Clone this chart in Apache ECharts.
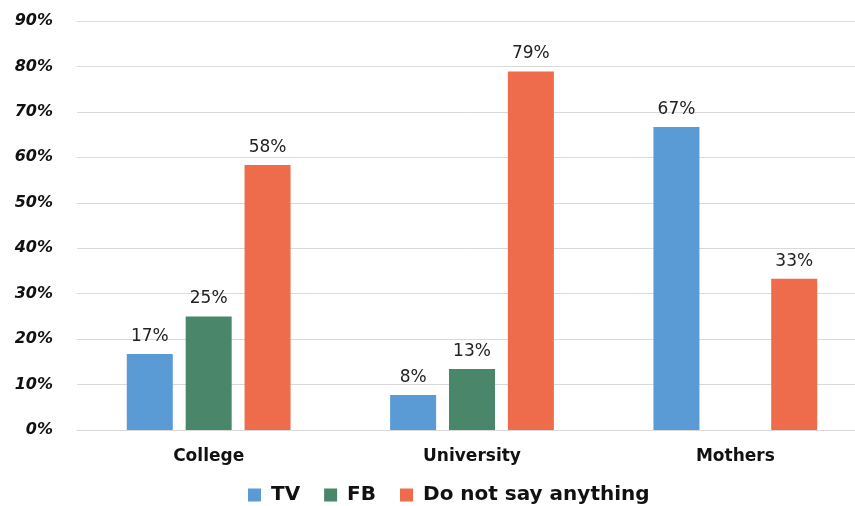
<!DOCTYPE html>
<html>
<head>
<meta charset="utf-8">
<script src="https://cdn.jsdelivr.net/npm/echarts@6/dist/echarts.min.js"></script>
<style>
html, body { margin: 0; padding: 0; background: #fff; }
#chart { width: 855px; height: 506px; }
</style>
</head>
<body>
<div id="chart"></div>
<script>
// data
var categories = ["College", "University", "Mothers"];
var tvData = [16.7, 7.7, 66.7];
var fbData = [25.0, 13.4, null];
var silentData = [58.3, 78.9, 33.3];
var seriesNames = ["TV", "FB", "Do not say anything"];
var colors = ["#5b9bd5", "#4a8669", "#ee6c4b"];

var chart = echarts.init(document.getElementById("chart"));

function barSeries(name, data, color) {
    return {
        name: name,
        type: "bar",
        data: data,
        barWidth: 46,
        barGap: "28%",
        itemStyle: { color: color },
        label: {
            show: true,
            position: "top",
            distance: 9,
            color: "#222",
            fontFamily: "DejaVu Sans",
            fontSize: 17,
            formatter: function (p) {
                return Math.round(p.value) + "%";
            }
        }
    };
}

chart.setOption({
    animation: false,
    color: colors,
    grid: {
        left: 77,
        width: 790,
        top: 21,
        bottom: 76,
        containLabel: false,
        outerBoundsMode: "none"
    },
    legend: {
        data: seriesNames,
        bottom: -4,
        left: 243,
        itemWidth: 13,
        itemHeight: 13,
        itemGap: 24,
        icon: "rect",
        textStyle: {
            fontFamily: "DejaVu Sans",
            fontWeight: "bold",
            fontSize: 20,
            color: "#111",
            padding: [0, 0, 0, 5]
        }
    },
    xAxis: {
        type: "category",
        data: categories,
        axisLine: { lineStyle: { color: "#d9d9d9" } },
        axisTick: { show: false },
        axisLabel: {
            margin: 18,
            fontFamily: "DejaVu Sans",
            fontWeight: "bold",
            fontSize: 17,
            color: "#111"
        }
    },
    yAxis: {
        type: "value",
        min: 0,
        max: 90,
        interval: 10,
        axisLine: { show: false },
        axisTick: { show: false },
        splitLine: { lineStyle: { color: "#d9d9d9", width: 1 } },
        axisLabel: {
            margin: 24,
            formatter: "{value}%",
            fontFamily: "DejaVu Sans",
            fontWeight: "bold",
            fontStyle: "italic",
            fontSize: 16,
            color: "#111"
        }
    },
    series: [
        barSeries(seriesNames[0], tvData, colors[0]),
        barSeries(seriesNames[1], fbData, colors[1]),
        barSeries(seriesNames[2], silentData, colors[2])
    ]
});
</script>
</body>
</html>
